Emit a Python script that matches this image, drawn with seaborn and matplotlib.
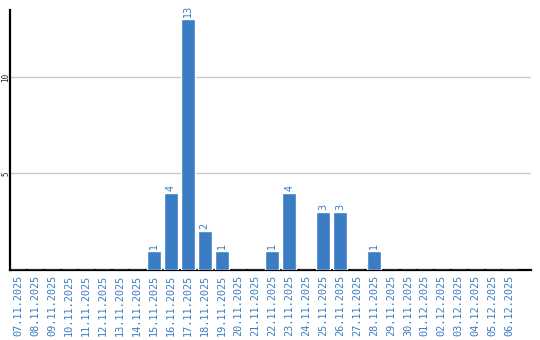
import matplotlib
matplotlib.use("Agg")
import matplotlib.pyplot as plt
import seaborn as sns
import pandas as pd

dates = ["07.11.2025", "08.11.2025", "09.11.2025", "10.11.2025", "11.11.2025",
         "12.11.2025", "13.11.2025", "14.11.2025", "15.11.2025", "16.11.2025",
         "17.11.2025", "18.11.2025", "19.11.2025", "20.11.2025", "21.11.2025",
         "22.11.2025", "23.11.2025", "24.11.2025", "25.11.2025", "26.11.2025",
         "27.11.2025", "28.11.2025", "29.11.2025", "30.11.2025", "01.12.2025",
         "02.12.2025", "03.12.2025", "04.12.2025", "05.12.2025", "06.12.2025"]
counts = [0, 0, 0, 0, 0, 0, 0, 0, 1, 4, 13, 2, 1, 0, 0, 1, 4, 0, 3, 3, 0, 1,
          0, 0, 0, 0, 0, 0, 0, 0]
y_ticks = [5, 10]

BLUE = "#3a7dc2"
df = pd.DataFrame({"date": dates, "count": counts})

sns.set_style("white")
fig = plt.figure(figsize=(5.4, 3.4), dpi=100)
ax = fig.add_axes([10 / 540, 1 - 270 / 340, 521 / 540, 260 / 340])

sns.barplot(data=df, x="date", y="count", color=BLUE, width=0.83,
            saturation=1, ax=ax, zorder=3)

ax.set_xlim(-0.5, 30.27)
ax.set_ylim(0, 13.47)
ax.set_yticks(y_ticks)
ax.yaxis.grid(True, color="#c8c8c8", linewidth=1, zorder=0)
ax.set_axisbelow(True)
ax.set_xlabel("")
ax.set_ylabel("")
for s in ["top", "right"]:
    ax.spines[s].set_visible(False)
for s in ["left", "bottom"]:
    ax.spines[s].set_color("black")
    ax.spines[s].set_linewidth(1.6)
ax.tick_params(axis="both", length=0)
ax.tick_params(axis="x", pad=3.5)
ax.tick_params(axis="y", pad=0)
for lbl in ax.get_xticklabels():
    lbl.set_rotation(90)
    lbl.set_color(BLUE)
    lbl.set_fontfamily("DejaVu Sans Mono")
    lbl.set_fontsize(7.4)
for lbl in ax.get_yticklabels():
    lbl.set_rotation(90)
    lbl.set_va("center")
    lbl.set_fontfamily("DejaVu Sans Mono")
    lbl.set_fontsize(5.5)

for i, v in enumerate(counts):
    if v > 0:
        ax.text(i, v + 0.1, str(v), rotation=90, ha="center", va="bottom",
                color=BLUE, fontsize=7, fontfamily="DejaVu Sans")

fig.savefig("out.png", dpi=100)
